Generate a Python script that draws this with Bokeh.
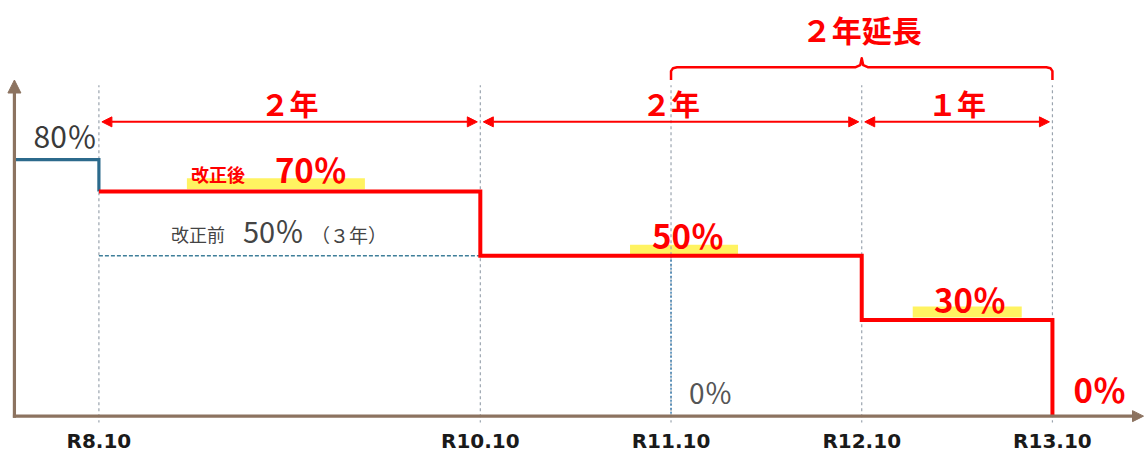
from bokeh.plotting import figure
from bokeh.models import Arrow, NormalHead, FixedTicker, Range1d
from bokeh.core.properties import value
from bokeh.embed import file_html
from bokeh.resources import INLINE

# ---------------- data ----------------
tick_pos = [8, 10, 11, 12, 13]
tick_labels = ["R8.10", "R10.10", "R11.10", "R12.10", "R13.10"]
before_rate = 80                    # rate before R8.10
new_bounds = [8, 10, 12, 13]        # revised schedule (改正後): period starts
new_rates = [70, 50, 30, 0]
old_bounds = [8, 11]                # previous schedule (改正前)
old_rates = [50, 0]
span_starts = [8, 10, 12]
span_ends = [10, 12, 13]
span_labels = ["２年", "２年", "１年"]
ext_start, ext_end = 11, 13
ext_label = "２年延長"

# ---------------- layout ----------------
W, H, BOTTOM = 1145, 455, 31
FH = H - BOTTOM
X_RANGE = (7.484, 13.488)
Y_RANGE = (-1.986, 129.59)
X_AXIS = 7.557        # where the vertical axis sits
ARROW_Y = 91.75       # level of the span arrows
BRACE_Y = 108.8
GRID_TOP = 103.2
Y_AXIS_TOP = 104.8


def dx(px):
    return px * (X_RANGE[1] - X_RANGE[0]) / W


def dy(px):
    return px * (Y_RANGE[1] - Y_RANGE[0]) / FH


RED = "#FF0000"
TEAL = "#2C6A8C"
BROWN = "#8C7360"
GRID = "#9AA4AE"
YELLOW = "#FFF250"
JP = value("Noto Sans CJK JP")

p = figure(width=W, height=H, output_backend="svg", toolbar_location=None, title=None,
           x_range=Range1d(*X_RANGE), y_range=Range1d(*Y_RANGE),
           y_axis_location=None, min_border_left=0, min_border_right=0,
           min_border_top=0, min_border_bottom=BOTTOM)
p.outline_line_color = None
p.grid.visible = False
p.background_fill_color = "white"

ax = p.xaxis[0]
ax.ticker = FixedTicker(ticks=tick_pos)
ax.major_label_overrides = {t: l for t, l in zip(tick_pos, tick_labels)}
ax.axis_line_color = None
ax.major_tick_line_color = None
ax.minor_tick_line_color = None
ax.major_tick_out = 0
ax.major_tick_in = 0
ax.minor_tick_out = 0
ax.major_label_standoff = 6
ax.major_label_text_font = "DejaVu Sans"
ax.major_label_text_font_style = "bold"
ax.major_label_text_font_size = "20px"
ax.major_label_text_color = "#1A1A1A"

# yellow highlights behind the red rate labels
p.segment(x0=[8 + dx(88)], y0=[new_rates[0] + dy(8)], x1=[8 + dx(266)], y1=[new_rates[0] + dy(8)],
          line_width=11, line_color=YELLOW, line_cap="butt", line_alpha=0.9)
p.segment(x0=[11 - dx(41)], y0=[new_rates[1] + dy(6)], x1=[11 + dx(67)], y1=[new_rates[1] + dy(6)],
          line_width=10, line_color=YELLOW, line_cap="butt", line_alpha=0.9)
p.segment(x0=[12 + dx(51)], y0=[new_rates[2] + dy(8)], x1=[12 + dx(160)], y1=[new_rates[2] + dy(8)],
          line_width=11, line_color=YELLOW, line_cap="butt", line_alpha=0.9)

# dotted vertical guides
p.segment(x0=tick_pos, y0=[-6] * len(tick_pos), x1=tick_pos, y1=[GRID_TOP] * len(tick_pos),
          line_color=GRID, line_width=1.2, line_dash="3 3")

# previous schedule (dashed)
p.line([old_bounds[0], old_bounds[1]], [old_rates[0], old_rates[0]],
       line_color="#3F7F9A", line_width=1.6, line_dash="4 2")
p.line([old_bounds[1], old_bounds[1]], [old_rates[0], old_rates[1]],
       line_color="#3C7FB0", line_width=1.5, line_dash="2 2")

# rate before R8.10
p.line([X_AXIS, new_bounds[0], new_bounds[0]], [before_rate, before_rate, new_rates[0]],
       line_color=TEAL, line_width=3.2, line_join="miter")

# revised schedule (red step)
sx, sy = [], []
for i in range(len(new_bounds) - 1):
    sx += [new_bounds[i], new_bounds[i + 1]]
    sy += [new_rates[i], new_rates[i]]
sx.append(new_bounds[-1])
sy.append(new_rates[-1])
p.line(sx, sy, line_color=RED, line_width=4, line_join="miter")

# axes arrows
p.add_layout(Arrow(end=NormalHead(size=13, fill_color=BROWN, line_color=BROWN),
                   x_start=X_AXIS, y_start=-0.5, x_end=X_AXIS, y_end=Y_AXIS_TOP,
                   line_color=BROWN, line_width=3.2))
p.add_layout(Arrow(end=NormalHead(size=11, fill_color=BROWN, line_color=BROWN),
                   x_start=X_AXIS - dx(1.5), y_start=0, x_end=X_RANGE[1] - dx(2), y_end=0,
                   line_color=BROWN, line_width=3.2))

# span arrows + labels
for s, e, lab in zip(span_starts, span_ends, span_labels):
    p.add_layout(Arrow(start=NormalHead(size=10, fill_color=RED, line_color=RED),
                       end=NormalHead(size=10, fill_color=RED, line_color=RED),
                       x_start=s + dx(3), y_start=ARROW_Y, x_end=e - dx(3), y_end=ARROW_Y,
                       line_color=RED, line_width=2))
    p.text(x=[(s + e) / 2], y=[ARROW_Y], text=[lab], text_font=JP, text_font_style="bold",
           text_font_size="29px", text_color=RED, text_align="center",
           text_baseline="bottom", y_offset=2)

# brace for the 2-year extension
xm = (ext_start + ext_end) / 2
bx = [ext_start, ext_start, ext_start + dx(2), ext_start + dx(6),
      xm - dx(6), xm - dx(1.5), xm, xm + dx(1.5), xm + dx(6),
      ext_end - dx(6), ext_end - dx(2), ext_end, ext_end]
by = [BRACE_Y - dy(13), BRACE_Y - dy(4), BRACE_Y - dy(1), BRACE_Y,
      BRACE_Y, BRACE_Y + dy(2), BRACE_Y + dy(9), BRACE_Y + dy(2), BRACE_Y,
      BRACE_Y, BRACE_Y - dy(1), BRACE_Y - dy(4), BRACE_Y - dy(13)]
p.line(bx, by, line_color=RED, line_width=2.5, line_join="round")
p.text(x=[xm], y=[BRACE_Y], text=[ext_label], text_font=JP, text_font_style="bold",
       text_font_size="30px", text_color=RED, text_align="center",
       text_baseline="bottom", y_offset=-16)


# value labels
def label(x, y, t, size, color, bold=False, align="left", xo=0, yo=0):
    p.text(x=[x], y=[y], text=[t], text_font=JP, text_font_style="bold" if bold else "normal",
           text_font_size=size, text_color=color, text_align=align,
           text_baseline="bottom", x_offset=xo, y_offset=yo)


label(new_bounds[0], before_rate, f"{before_rate}％", "30px", "#3A3A3A", align="right", xo=-2, yo=-3)
label(new_bounds[0], new_rates[0], "改正後", "18px", RED, bold=True, xo=92, yo=-5)
label(new_bounds[0], new_rates[0], f"{new_rates[0]}％", "33px", RED, bold=True, xo=176, yo=1)
label(old_bounds[0], old_rates[0], "改正前", "18px", "#444444", xo=72, yo=-9)
label(old_bounds[0], old_rates[0], f"{old_rates[0]}％", "29px", "#444444", xo=144, yo=-5)
label(old_bounds[0], old_rates[0], "（３年）", "19px", "#444444", xo=212, yo=-8)
label((new_bounds[1] + new_bounds[2]) / 2, new_rates[1], f"{new_rates[1]}％", "33px", RED,
      bold=True, align="center", xo=17, yo=3)
label((new_bounds[2] + new_bounds[3]) / 2, new_rates[2], f"{new_rates[2]}％", "33px", RED,
      bold=True, align="center", xo=13, yo=3)
label(new_bounds[3], new_rates[3], f"{new_rates[3]}％", "33px", RED, bold=True, xo=21, yo=-3)
label(old_bounds[1], old_rates[1], f"{old_rates[1]}％", "28px", "#555555", xo=18, yo=-4)

open("out.html", "w").write(file_html(p, INLINE))
